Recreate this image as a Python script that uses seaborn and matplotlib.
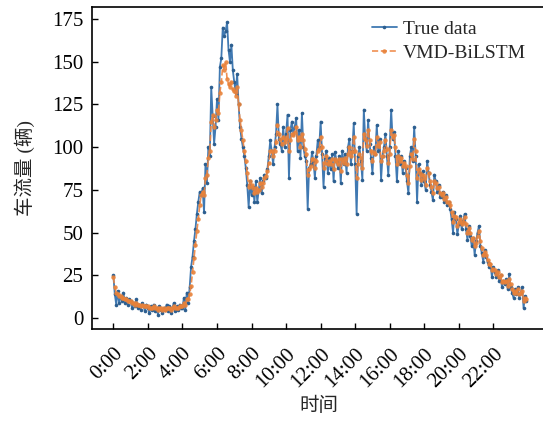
import numpy as np
import pandas as pd
import matplotlib
matplotlib.use("Agg")
import matplotlib.pyplot as plt
import seaborn as sns

# 5-minute samples over one day (index 0..287)
true_data = [
    25, 14, 8, 16, 9, 13, 10, 15, 9, 12, 8, 11,
    10, 6, 9, 7, 11, 6, 8, 5, 9, 7, 4, 8,
    6, 3, 7, 5, 8, 4, 6, 2, 7, 5, 3, 6,
    5, 8, 4, 7, 3, 6, 9, 4, 7, 5, 8, 6,
    6, 12, 5, 15, 9, 18, 30, 36, 45, 52, 61, 68,
    74, 72, 76, 62, 90, 79, 100, 95, 135, 118, 102, 112,
    128, 116, 147, 152, 170, 165, 168, 173, 157, 150, 160, 145,
    138, 132, 143, 125, 112, 105, 100, 95, 88, 78, 65, 80,
    72, 77, 68, 80, 68, 75, 82, 73, 80, 84, 82, 87,
    95, 104, 98, 90, 100, 108, 125, 105, 102, 98, 112, 100,
    108, 119, 82, 110, 115, 108, 112, 117, 98, 110, 94, 120,
    100, 95, 92, 64, 88, 90, 97, 92, 82, 95, 104, 100,
    115, 96, 77, 93, 98, 85, 94, 87, 96, 80, 97, 92,
    88, 95, 79, 98, 90, 96, 85, 100, 105, 90, 98, 114,
    90, 61, 95, 100, 92, 81, 122, 105, 98, 116, 102, 94,
    85, 100, 96, 113, 98, 105, 81, 95, 100, 108, 95, 84,
    100, 122, 105, 109, 95, 80, 98, 90, 95, 85, 92, 88,
    80, 73, 95, 100, 92, 112, 95, 68, 90, 85, 78, 86,
    80, 75, 92, 85, 78, 74, 69, 84, 80, 74, 78, 71,
    71, 74, 68, 72, 66, 68, 64, 58, 50, 62, 58, 49,
    55, 60, 52, 57, 61, 52, 46, 54, 48, 42, 47, 37,
    45, 50, 54, 42, 38, 33, 40, 36, 33, 30, 32, 24,
    30, 27, 24, 28, 22, 25, 18, 22, 20, 23, 17, 26,
    18, 15, 12, 17, 14, 18, 12, 15, 18, 6, 13, 10,
]

vmd_bilstm = [
    24, 18, 15, 14, 13, 13, 12, 12, 11, 11, 10, 10,
    10, 9, 9, 8, 9, 8, 8, 7, 8, 7, 7, 7,
    7, 6, 6, 6, 7, 6, 6, 5, 6, 6, 5, 6,
    5, 6, 6, 6, 5, 6, 7, 6, 6, 6, 7, 7,
    7, 9, 8, 11, 11, 14, 19, 27, 35, 43, 51, 58,
    66, 72, 74, 72, 82, 84, 94, 98, 115, 119, 112, 116,
    122, 120, 132, 138, 148, 145, 150, 140, 137, 135, 138, 134,
    133, 130, 135, 125, 116, 110, 104, 98, 92, 85, 77, 80,
    78, 76, 73, 76, 74, 75, 79, 77, 79, 82, 83, 86,
    91, 98, 98, 95, 98, 103, 113, 108, 105, 102, 106, 103,
    105, 111, 98, 104, 108, 107, 109, 112, 104, 106, 100, 108,
    104, 99, 96, 84, 87, 89, 93, 93, 88, 92, 98, 99,
    106, 100, 88, 91, 95, 90, 92, 90, 93, 87, 93, 92,
    90, 93, 86, 93, 91, 94, 90, 96, 100, 95, 97, 106,
    98, 82, 90, 96, 94, 88, 108, 105, 101, 110, 104, 98,
    92, 97, 96, 106, 101, 103, 92, 95, 98, 104, 99, 91,
    96, 110, 106, 107, 100, 90, 95, 92, 94, 89, 91, 89,
    84, 79, 89, 96, 93, 105, 98, 82, 87, 85, 81, 84,
    82, 78, 88, 85, 80, 77, 73, 80, 79, 76, 77, 73,
    72, 73, 70, 71, 68, 68, 66, 62, 56, 60, 59, 54,
    56, 58, 55, 56, 59, 55, 50, 53, 50, 46, 47, 42,
    44, 48, 51, 45, 41, 37, 39, 37, 34, 32, 32, 28,
    29, 28, 26, 27, 24, 25, 21, 22, 21, 22, 19, 23,
    20, 17, 15, 16, 15, 17, 14, 15, 16, 10, 12, 11,
]

tick_labels = ["0:00", "2:00", "4:00", "6:00", "8:00", "10:00", "12:00",
               "14:00", "16:00", "18:00", "20:00", "22:00"]
y_ticks = [0, 25, 50, 75, 100, 125, 150, 175]

sns.set_theme(style="ticks")
plt.rcParams["font.family"] = ["Liberation Serif", "Noto Sans CJK SC"]
plt.rcParams["xtick.direction"] = "in"
plt.rcParams["ytick.direction"] = "in"

df = pd.DataFrame({"t": np.arange(len(true_data)),
                   "true": true_data, "pred": vmd_bilstm})

fig = plt.figure(figsize=(5.43, 4.21), dpi=100)
ax = fig.add_axes([0.169, 0.2185, 0.835, 0.764])

sns.lineplot(data=df, x="t", y="true", ax=ax, color="#4079b2", linewidth=1.3,
             marker="o", markersize=2.6, markeredgewidth=0,
             markerfacecolor="#2d5f90", label="True data")
sns.lineplot(data=df, x="t", y="pred", ax=ax, color="#ee8440", linewidth=1.2,
             linestyle="--", marker="o", markersize=3.2, markeredgewidth=0,
             markerfacecolor="#e8823a", alpha=0.9, label="VMD-BiLSTM")

ax.set_xlim(-15, 300)
ax.set_ylim(-6.3, 181.8)
ax.set_xticks(np.arange(0, 288, 24))
ax.set_xticklabels(tick_labels, rotation=45, ha="right", rotation_mode="anchor",
                   fontsize=15)
ax.set_yticks(y_ticks)
ax.set_yticklabels([str(v) for v in y_ticks], fontsize=15)
ax.tick_params(axis="both", length=4, width=1, colors="black", pad=6)
ax.tick_params(axis="x", pad=11)
for s in ax.spines.values():
    s.set_linewidth(1.2)
    s.set_color("black")

ax.set_xlabel("时间", fontsize=14, labelpad=4)
ax.set_ylabel("车流量 (辆)", fontsize=14, labelpad=12)

leg = ax.legend(loc="upper right", frameon=False, fontsize=14,
                handlelength=1.3, handletextpad=0.3, labelspacing=0.35,
                borderaxespad=0.0, bbox_to_anchor=(0.975, 0.985))

fig.savefig("out.png", dpi=100)
